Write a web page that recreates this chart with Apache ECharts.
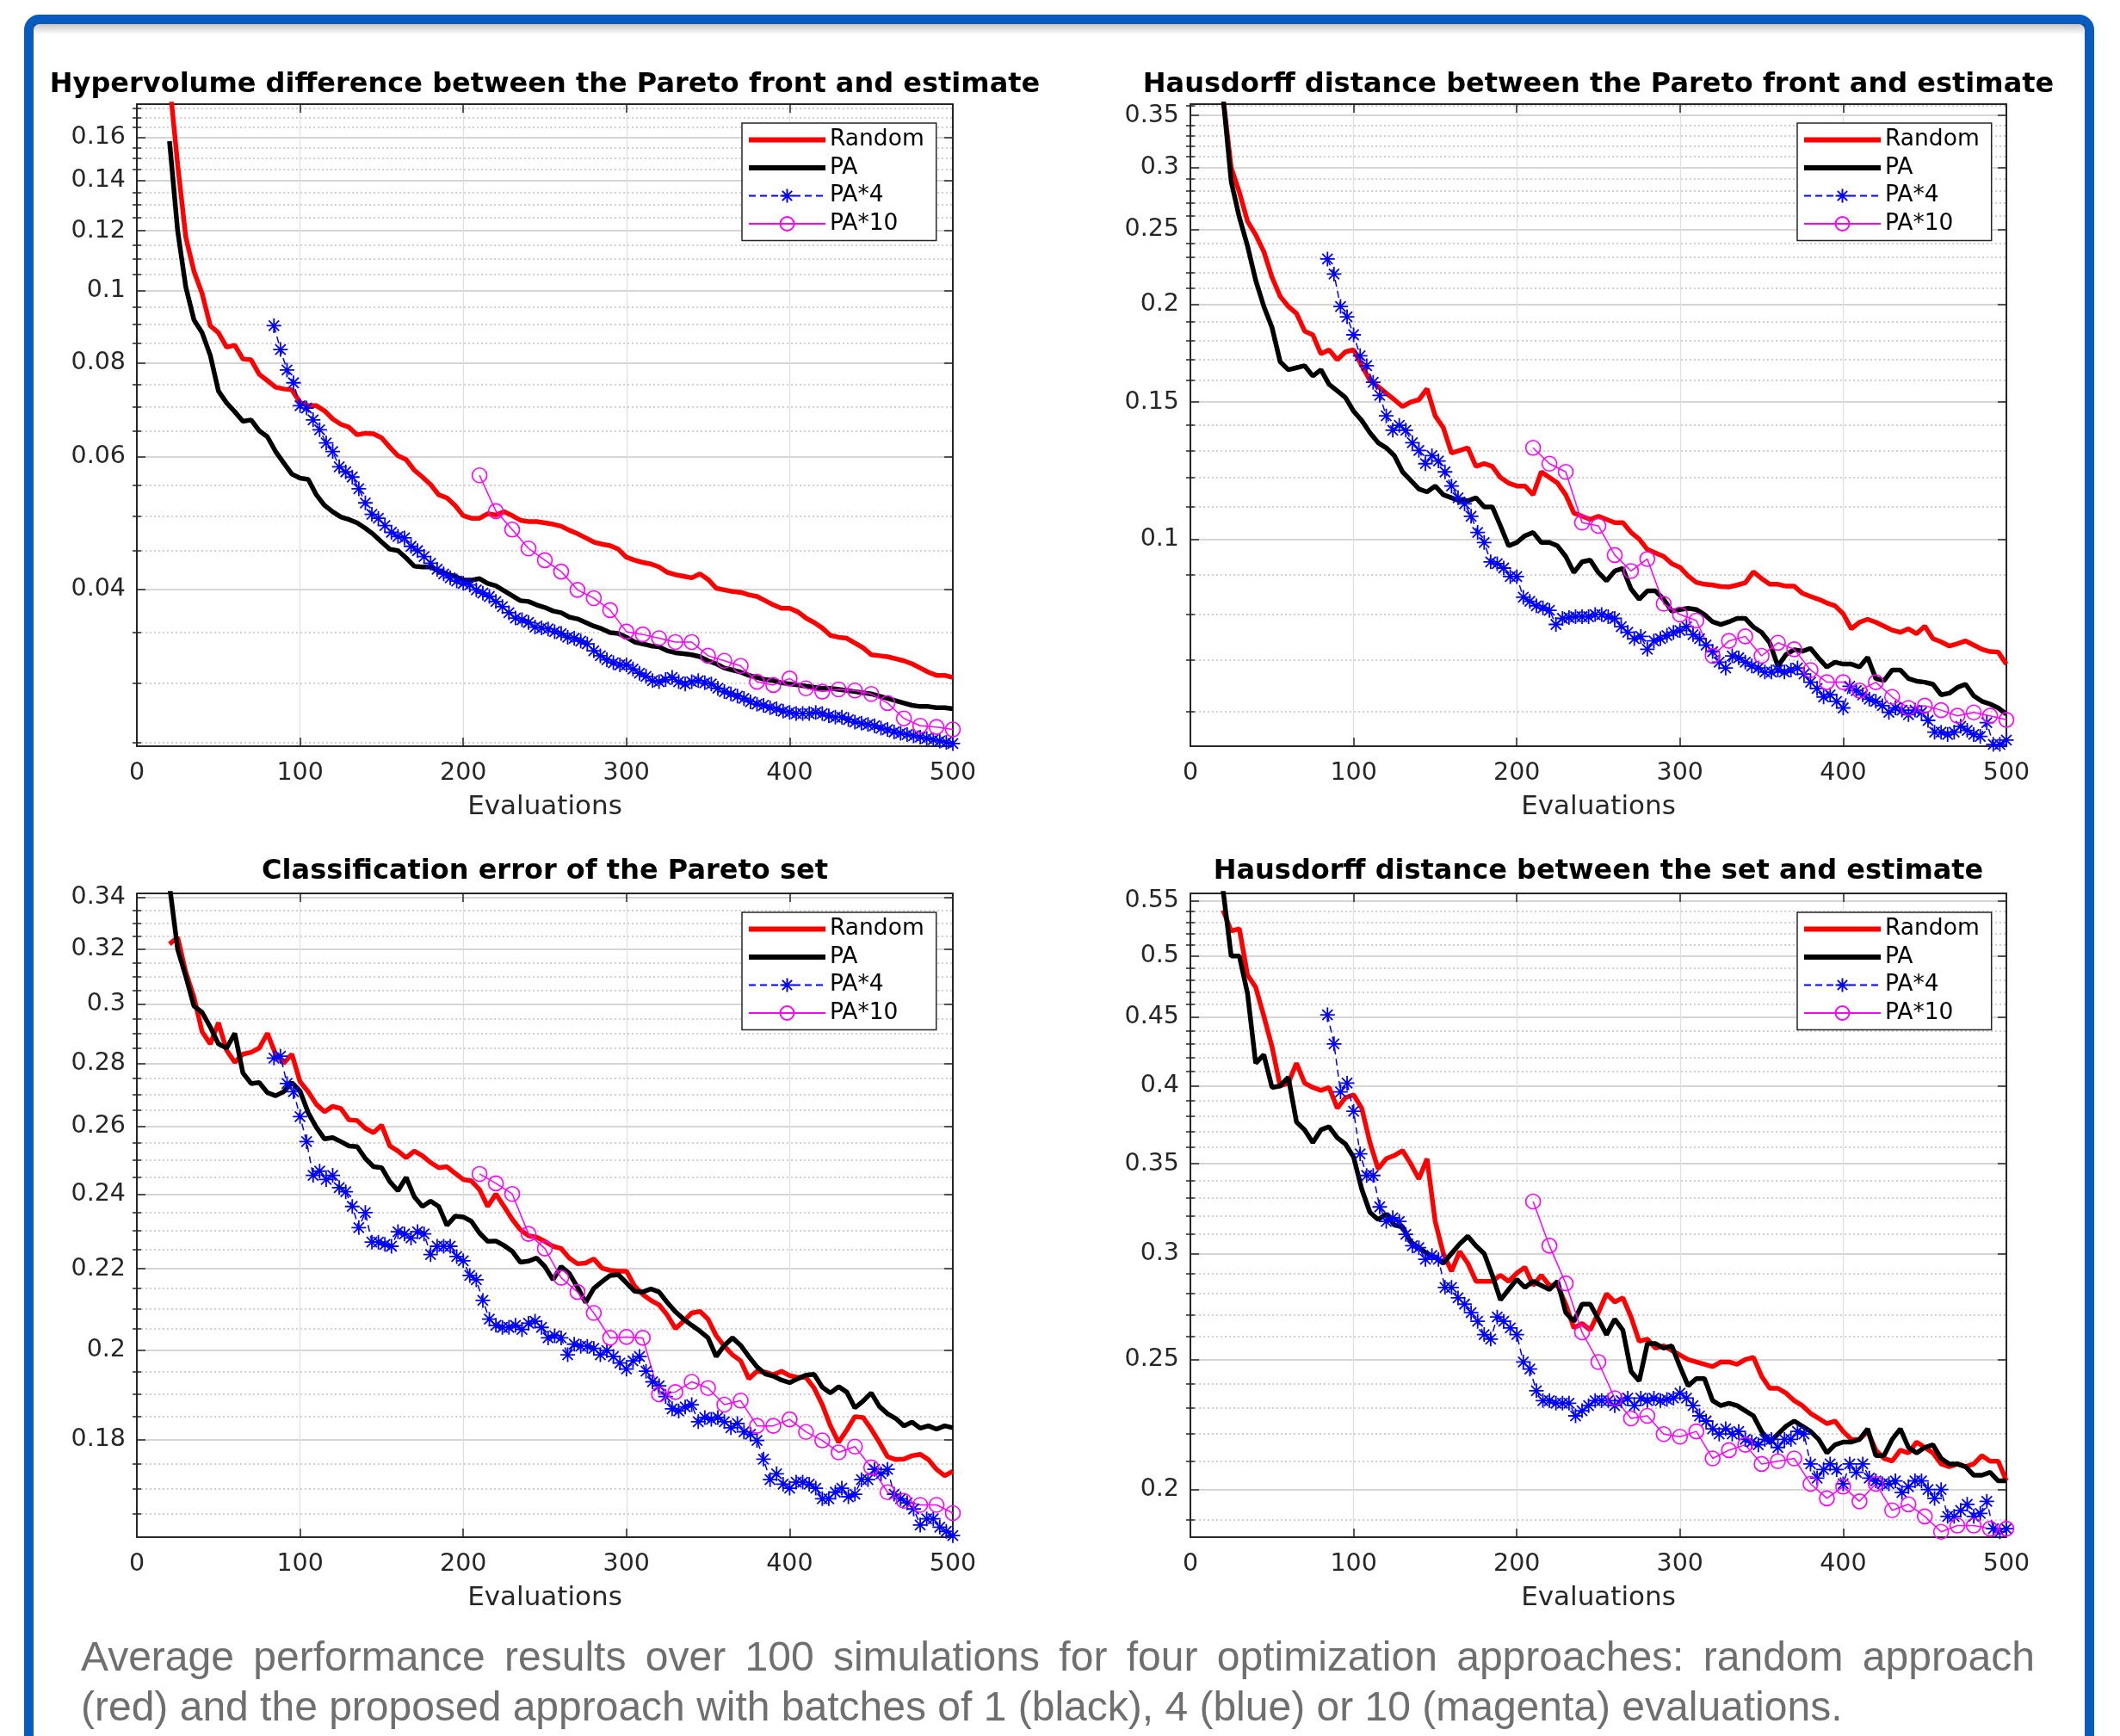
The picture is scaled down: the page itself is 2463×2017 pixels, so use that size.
<!DOCTYPE html>
<html><head><meta charset="utf-8">
<script src="https://cdn.jsdelivr.net/npm/echarts@6/dist/echarts.min.js"></script>
<style>html,body{margin:0;padding:0;background:#fff;}#c{width:2463px;height:2017px;}</style>
</head><body><div id="c"></div><script>
// ---------- x values (evaluations) ----------
const evalsA = [20,25,30,35,40,45,50,55,60,65,70,75,80,85,90,95,100,105,110,115,120,125,130,135,140,145,150,155,160,165,170,175,180,185,190,195,200,205,210,215,220,225,230,235,240,245,250,255,260,265,270,275,280,285,290,295,300,305,310,315,320,325,330,335,340,345,350,355,360,365,370,375,380,385,390,395,400,405,410,415,420,425,430,435,440,445,450,455,460,465,470,475,480,485,490,495,500];
const evals4 = [84,88,92,96,100,104,108,112,116,120,124,128,132,136,140,144,148,152,156,160,164,168,172,176,180,184,188,192,196,200,204,208,212,216,220,224,228,232,236,240,244,248,252,256,260,264,268,272,276,280,284,288,292,296,300,304,308,312,316,320,324,328,332,336,340,344,348,352,356,360,364,368,372,376,380,384,388,392,396,400,404,408,412,416,420,424,428,432,436,440,444,448,452,456,460,464,468,472,476,480,484,488,492,496,500];
const evals10 = [210,220,230,240,250,260,270,280,290,300,310,320,330,340,350,360,370,380,390,400,410,420,430,440,450,460,470,480,490,500];

// ---------- Panel 1: Hypervolume difference ----------
const hvRandom = [0.19,0.147,0.1177,0.106,0.099,0.0897,0.0878,0.084,0.0845,0.081,
0.0808,0.0773,0.0758,0.0743,0.0739,0.0737,0.0709,0.0702,0.0702,0.0691,
0.0674,0.0663,0.0657,0.0642,0.0645,0.0644,0.0636,0.0618,0.0602,0.0595,
0.0576,0.0564,0.0551,0.0534,0.0529,0.0517,0.0501,0.0497,0.0497,0.0504,
0.0502,0.0507,0.0501,0.0494,0.0492,0.0492,0.049,0.0488,0.0485,0.0479,
0.0474,0.0468,0.0462,0.0459,0.0457,0.0452,0.0441,0.0437,0.0434,0.0432,
0.0428,0.0421,0.0418,0.0416,0.0414,0.0419,0.0412,0.0401,0.0399,0.0397,
0.0396,0.0393,0.0391,0.0386,0.0381,0.0377,0.0377,0.0373,0.0366,0.0361,
0.0355,0.0347,0.0345,0.0344,0.0339,0.0334,0.0327,0.0326,0.0325,0.0323,
0.0321,0.0318,0.0314,0.031,0.0307,0.0307,0.0305];
const hvPA = [0.158,0.12,0.101,0.0913,0.0878,0.0819,0.0734,0.0708,0.0689,0.0669,
0.0672,0.065,0.0638,0.061,0.0589,0.0569,0.0562,0.056,0.0534,0.0517,
0.0507,0.0499,0.0495,0.049,0.0482,0.0473,0.0462,0.0452,0.045,0.044,
0.0429,0.0428,0.0428,0.0423,0.0419,0.0416,0.0411,0.0411,0.0413,0.0407,
0.0404,0.0398,0.0392,0.0386,0.0385,0.0381,0.0378,0.0374,0.0372,0.0367,
0.0365,0.0361,0.0357,0.0354,0.035,0.0349,0.0345,0.034,0.0338,0.0336,
0.0335,0.0331,0.0329,0.0328,0.0327,0.0325,0.0321,0.0318,0.0314,0.0312,
0.031,0.0307,0.0305,0.0303,0.0302,0.03,0.0299,0.0298,0.0297,0.0296,
0.0295,0.0295,0.0294,0.0293,0.0292,0.0291,0.029,0.0288,0.0286,0.0284,
0.0282,0.028,0.0279,0.0279,0.0278,0.0278,0.0277];
const hvPA4 = [0.0897,0.0834,0.0783,0.0753,0.0702,0.0697,0.0672,0.0652,0.0626,0.061,
0.0582,0.0573,0.0564,0.0544,0.0521,0.0503,0.0497,0.0486,0.0476,0.047,
0.0468,0.0456,0.045,0.0442,0.0433,0.0425,0.0419,0.0414,0.041,0.0407,
0.0405,0.0399,0.0395,0.0391,0.0385,0.0379,0.0372,0.0366,0.0364,0.0361,
0.0356,0.0355,0.0354,0.0351,0.0349,0.0345,0.0344,0.0341,0.0338,0.0331,
0.0326,0.0322,0.0319,0.0317,0.0317,0.0313,0.0309,0.0306,0.0302,0.0301,
0.0303,0.0305,0.0301,0.0299,0.0301,0.0302,0.03,0.0299,0.0295,0.0292,
0.029,0.0288,0.0286,0.0283,0.0281,0.028,0.0278,0.0277,0.0275,0.0274,
0.0273,0.0273,0.0273,0.0274,0.0273,0.0271,0.027,0.027,0.0268,0.0266,
0.0265,0.0264,0.0263,0.0261,0.026,0.0258,0.0257,0.0256,0.0255,0.0254,
0.0253,0.0252,0.0251,0.025,0.0249];
const hvPA10 = [0.0567,0.0508,0.048,0.0453,0.0437,0.0422,0.0399,0.0389,0.0375,0.0351,
0.0348,0.0344,0.034,0.034,0.0326,0.0321,0.0316,0.0301,0.0298,0.0304,
0.0295,0.0292,0.0294,0.0293,0.029,0.0282,0.0269,0.0263,0.0262,0.026];
const hvTicks = [0.04,0.06,0.08,0.1,0.12,0.14,0.16];
const hvMinor = [0.025,0.03,0.035,0.045,0.05,0.055,0.065,0.07,0.075,0.085,0.09,0.095,0.105,0.11,0.115,0.125,0.13,0.135,0.145,0.15,0.155,0.165,0.17,0.175];

// ---------- Panel 2: Hausdorff distance, Pareto front ----------
const hdfRandom = [0.37,0.30,0.279,0.256,0.246,0.234,0.217,0.205,0.199,0.195,
0.185,0.183,0.173,0.175,0.17,0.174,0.175,0.167,0.16,0.157,
0.154,0.151,0.148,0.15,0.151,0.156,0.144,0.139,0.129,0.13,
0.131,0.124,0.125,0.124,0.12,0.118,0.117,0.117,0.114,0.122,
0.12,0.118,0.114,0.108,0.107,0.106,0.107,0.106,0.105,0.105,
0.102,0.1,0.097,0.096,0.095,0.093,0.092,0.0897,0.088,0.0875,
0.0873,0.0869,0.0868,0.0873,0.0879,0.0908,0.089,0.0875,0.0875,0.087,
0.087,0.0852,0.0844,0.0837,0.0828,0.0821,0.0802,0.0767,0.0782,0.0789,
0.0782,0.0773,0.0764,0.0759,0.0767,0.0756,0.0773,0.0745,0.0738,0.0729,
0.0734,0.074,0.0731,0.0722,0.0717,0.0716,0.0691];
const hdfPA = [0.37,0.288,0.259,0.238,0.215,0.199,0.187,0.169,0.165,0.166,
0.167,0.162,0.165,0.158,0.155,0.152,0.146,0.142,0.137,0.133,
0.131,0.128,0.122,0.119,0.116,0.115,0.117,0.114,0.113,0.112,
0.112,0.113,0.11,0.11,0.104,0.098,0.099,0.101,0.102,0.099,
0.099,0.098,0.095,0.0906,0.0935,0.094,0.0906,0.0884,0.091,0.0917,
0.0863,0.0837,0.0858,0.0858,0.0837,0.0808,0.0812,0.0815,0.0812,0.08,
0.0783,0.0777,0.0783,0.0791,0.0791,0.0771,0.0759,0.0736,0.0687,0.0711,
0.0721,0.0718,0.0724,0.0703,0.0685,0.0695,0.0691,0.0691,0.0685,0.0705,
0.0662,0.0658,0.0679,0.0679,0.0662,0.0657,0.0655,0.0651,0.0631,0.0634,
0.0645,0.0651,0.0629,0.0619,0.0614,0.0607,0.0596];
const hdfPA4 = [0.229,0.219,0.199,0.193,0.183,0.172,0.167,0.159,0.153,0.144,
0.138,0.14,0.138,0.133,0.13,0.125,0.128,0.126,0.122,0.117,
0.113,0.111,0.107,0.102,0.099,0.0935,0.093,0.0918,0.0895,0.0895,
0.0842,0.0832,0.0821,0.0816,0.081,0.0777,0.0791,0.0793,0.0795,0.0795,
0.0795,0.08,0.08,0.0795,0.0791,0.0772,0.0759,0.0745,0.075,0.0722,
0.074,0.0745,0.0752,0.0759,0.0763,0.0772,0.0754,0.0745,0.0731,0.0717,
0.0695,0.0683,0.0708,0.0704,0.0695,0.0687,0.0683,0.0675,0.0675,0.0679,
0.0675,0.0679,0.0683,0.0671,0.0655,0.0643,0.0627,0.0631,0.0619,0.0607,
0.0647,0.0639,0.0631,0.0623,0.0619,0.0611,0.0599,0.0607,0.0603,0.0595,
0.0603,0.0599,0.0585,0.0565,0.0565,0.0561,0.0565,0.0575,0.0568,0.0561,
0.0558,0.0581,0.0545,0.0545,0.0552];
const hdfPA10 = [0.131,0.125,0.122,0.105,0.104,0.0954,0.091,0.0943,0.0826,0.08,
0.0786,0.0708,0.074,0.075,0.0708,0.0736,0.0722,0.0679,0.0655,0.0655,
0.0639,0.0655,0.0627,0.0607,0.0611,0.0603,0.0593,0.0599,0.0593,0.0586];
const hdfTicks = [0.1,0.15,0.2,0.25,0.3,0.35];
const hdfMinor = [0.06,0.07,0.08,0.09,0.11,0.12,0.13,0.14,0.16,0.17,0.18,0.19,0.21,0.22,0.23,0.24,0.26,0.27,0.28,0.29,0.31,0.32,0.33,0.34,0.36];

// ---------- Panel 3: Classification error ----------
const ceRandom = [0.322,0.3245,0.3115,0.3025,0.2905,0.2864,0.2936,0.2843,0.2803,0.283,
0.2836,0.285,0.29,0.283,0.28,0.283,0.274,0.2708,0.2668,0.2645,
0.2662,0.2655,0.262,0.2618,0.2594,0.2581,0.2604,0.2541,0.2526,0.2506,
0.2526,0.2512,0.2492,0.2477,0.248,0.2461,0.2443,0.2439,0.2414,0.2367,
0.2402,0.2367,0.2332,0.2303,0.2287,0.2283,0.2272,0.2259,0.2253,0.2228,
0.2213,0.2215,0.2226,0.2202,0.2196,0.2194,0.2194,0.2156,0.2135,0.212,
0.2109,0.2084,0.2051,0.2069,0.2089,0.2093,0.2074,0.2034,0.2009,0.1989,
0.1975,0.1934,0.1951,0.1949,0.1943,0.1951,0.1941,0.1937,0.1937,0.1913,
0.1876,0.183,0.1795,0.1821,0.185,0.1848,0.1823,0.1795,0.1765,0.1759,
0.176,0.1767,0.177,0.1759,0.1739,0.1726,0.1735];
const cePA = [0.345,0.32,0.31,0.2994,0.2972,0.2921,0.2864,0.285,0.29,0.2768,
0.2734,0.2737,0.2705,0.2695,0.2708,0.2737,0.271,0.2642,0.2597,0.2562,
0.2566,0.2554,0.2541,0.2539,0.2504,0.248,0.2477,0.2437,0.2411,0.2449,
0.2394,0.2367,0.2382,0.2367,0.2315,0.234,0.2338,0.2326,0.2294,0.2272,
0.2273,0.2261,0.2246,0.2217,0.222,0.2228,0.2206,0.2172,0.2206,0.2188,
0.2153,0.2115,0.215,0.2167,0.2183,0.2185,0.2164,0.2143,0.2141,0.2149,
0.2141,0.2115,0.2092,0.2074,0.2059,0.2045,0.2029,0.1985,0.2011,0.2029,
0.2011,0.1985,0.1961,0.1945,0.194,0.1931,0.1925,0.1934,0.1942,0.1944,
0.1915,0.1902,0.1916,0.1904,0.1869,0.1884,0.1902,0.1872,0.1856,0.1846,
0.183,0.1838,0.1825,0.183,0.1823,0.183,0.1826];
const cePA4 = [0.2817,0.2823,0.2734,0.2708,0.263,0.2554,0.2455,0.2467,0.2443,0.2455,
0.242,0.2408,0.2367,0.2309,0.235,0.227,0.227,0.2264,0.2259,0.2298,
0.2292,0.2281,0.2298,0.2292,0.2237,0.2259,0.2259,0.2259,0.2232,0.2221,
0.2183,0.2172,0.212,0.2074,0.2059,0.2054,0.2054,0.2059,0.2049,0.2064,
0.2069,0.2054,0.2029,0.2034,0.2029,0.1989,0.2014,0.2009,0.2009,0.2004,
0.1989,0.1999,0.1985,0.197,0.1956,0.1975,0.1985,0.1951,0.1927,0.1918,
0.1894,0.1867,0.1862,0.1871,0.1876,0.1839,0.1848,0.1844,0.1848,0.1839,
0.1826,0.1835,0.1817,0.1812,0.1799,0.176,0.1718,0.173,0.1709,0.1701,
0.1713,0.1713,0.1709,0.1701,0.168,0.168,0.1693,0.1701,0.1684,0.1689,
0.1718,0.1718,0.1739,0.173,0.1739,0.1689,0.168,0.1672,0.166,0.1629,
0.1641,0.1641,0.1625,0.1617,0.1609];
const cePA10 = [0.2459,0.2432,0.2402,0.2292,0.2253,0.2177,0.2141,0.2089,0.2029,0.2031,
0.2029,0.1899,0.1904,0.1927,0.1913,0.1876,0.1885,0.183,0.183,0.1844,
0.1817,0.1799,0.1774,0.1786,0.1743,0.1693,0.1676,0.1668,0.1668,0.1652];
const ceTicks = [0.18,0.2,0.22,0.24,0.26,0.28,0.3,0.32,0.34];
const ceMinor = [0.165,0.17,0.175,0.185,0.19,0.195,0.205,0.21,0.215,0.225,0.23,0.235,0.245,0.25,0.255,0.265,0.27,0.275,0.285,0.29,0.295,0.305,0.31,0.315,0.325,0.33,0.335];

// ---------- Panel 4: Hausdorff distance, set ----------
const hdsRandom = [0.541,0.522,0.524,0.484,0.474,0.451,0.428,0.40,0.402,0.416,
0.402,0.399,0.397,0.399,0.385,0.392,0.394,0.385,0.363,0.347,
0.353,0.355,0.358,0.35,0.341,0.353,0.317,0.30,0.291,0.301,
0.295,0.286,0.286,0.286,0.289,0.286,0.29,0.293,0.284,0.289,
0.284,0.284,0.275,0.264,0.266,0.263,0.271,0.28,0.276,0.278,
0.269,0.258,0.259,0.255,0.256,0.254,0.252,0.25,0.249,0.248,
0.247,0.249,0.249,0.248,0.25,0.251,0.243,0.238,0.238,0.236,
0.233,0.231,0.228,0.226,0.224,0.225,0.221,0.218,0.218,0.221,
0.214,0.211,0.21,0.214,0.213,0.217,0.215,0.213,0.209,0.208,
0.209,0.208,0.209,0.212,0.21,0.21,0.203];
const hdsPA = [0.56,0.50,0.50,0.469,0.416,0.422,0.399,0.40,0.406,0.376,
0.371,0.363,0.371,0.373,0.366,0.362,0.354,0.335,0.322,0.318,
0.321,0.315,0.314,0.306,0.303,0.30,0.298,0.295,0.30,0.305,
0.309,0.304,0.30,0.289,0.277,0.282,0.287,0.283,0.286,0.284,
0.282,0.286,0.271,0.267,0.275,0.275,0.268,0.261,0.268,0.263,
0.245,0.241,0.257,0.257,0.255,0.256,0.247,0.239,0.242,0.242,
0.233,0.231,0.232,0.231,0.229,0.227,0.221,0.217,0.22,0.223,
0.225,0.223,0.221,0.218,0.213,0.216,0.217,0.217,0.218,0.222,
0.212,0.212,0.218,0.222,0.215,0.213,0.215,0.216,0.211,0.209,
0.209,0.208,0.205,0.205,0.206,0.203,0.203];
const hdsPA4 = [0.452,0.43,0.396,0.402,0.383,0.356,0.343,0.343,0.325,0.317,
0.319,0.317,0.31,0.304,0.303,0.297,0.299,0.297,0.283,0.283,
0.278,0.275,0.271,0.267,0.261,0.259,0.269,0.267,0.264,0.261,
0.249,0.246,0.237,0.233,0.233,0.232,0.232,0.232,0.227,0.229,
0.231,0.233,0.233,0.233,0.231,0.233,0.234,0.231,0.234,0.233,
0.234,0.233,0.2335,0.234,0.236,0.234,0.231,0.227,0.225,0.222,
0.22,0.222,0.22,0.221,0.218,0.217,0.216,0.218,0.218,0.215,
0.218,0.218,0.221,0.22,0.209,0.204,0.207,0.209,0.207,0.202,
0.209,0.206,0.209,0.204,0.203,0.202,0.202,0.203,0.199,0.201,
0.203,0.203,0.20,0.197,0.20,0.191,0.191,0.193,0.195,0.191,
0.192,0.196,0.187,0.186,0.187];
const hdsPA10 = [0.328,0.304,0.285,0.262,0.249,0.234,0.226,0.227,0.22,0.219,
0.221,0.211,0.214,0.216,0.209,0.21,0.211,0.202,0.197,0.201,
0.196,0.202,0.193,0.195,0.191,0.186,0.188,0.188,0.187,0.187];
const hdsTicks = [0.2,0.25,0.3,0.35,0.4,0.45,0.5,0.55];
const hdsMinor = [0.19,0.21,0.22,0.23,0.24,0.26,0.27,0.28,0.29,0.31,0.32,0.33,0.34,0.36,0.37,0.38,0.39,0.41,0.42,0.43,0.44,0.46,0.47,0.48,0.49,0.51,0.52,0.53,0.54];

const titles = ['Hypervolume difference between the Pareto front and estimate',
  'Hausdorff distance between the Pareto front and estimate',
  'Classification error of the Pareto set',
  'Hausdorff distance between the set and estimate'];
const seriesNames = ['Random','PA','PA*4','PA*10'];
const xLabel = 'Evaluations';
const captionLine1 = 'Average performance results over 100 simulations for four optimization approaches: random approach';
const captionLine2 = '(red) and the proposed approach with batches of 1 (black), 4 (blue) or 10 (magenta) evaluations.';

// ---------- layout / style ----------
const panels = [
  {data:[hvRandom,hvPA,hvPA4,hvPA10], ticks:hvTicks, minor:hvMinor, min:0.0247, max:0.177},
  {data:[hdfRandom,hdfPA,hdfPA4,hdfPA10], ticks:hdfTicks, minor:hdfMinor, min:0.0542, max:0.362},
  {data:[ceRandom,cePA,cePA4,cePA10], ticks:ceTicks, minor:ceMinor, min:0.1606, max:0.3417},
  {data:[hdsRandom,hdsPA,hdsPA4,hdsPA10], ticks:hdsTicks, minor:hdsMinor, min:0.1843, max:0.5568}
];
const boxes = [
  {left:159, top:121, h:746, tx:633, ty:99, lx:862, ly:143},
  {left:1383, top:121, h:746, tx:1857, ty:99, lx:2088, ly:143},
  {left:159, top:1038, h:748, tx:633, ty:1013, lx:862, ly:1060},
  {left:1383, top:1038, h:748, tx:1857, ty:1013, lx:2088, ly:1060}
];
const FONT = 'DejaVu Sans';
const AX = '#262626';
const colors = ['#ff0000','#000000','#0000ff','#ff00ff'];
const asterisk = 'path://M10,0V20M0,10H20M2.93,2.93L17.07,17.07M17.07,2.93L2.93,17.07';
const thickIcon = 'path://M0,0H90V6H0Z';
const fmt = v => String(parseFloat(Number(v).toPrecision(4)));
const zip = (xs, ys) => xs.slice(0, ys.length).map((x, k) => [x, ys[k]]);

const grid = [], xAxis = [], yAxis = [], series = [], legend = [], title = [];
panels.forEach((p, i) => {
  const b = boxes[i];
  grid.push({left:b.left, top:b.top, width:948, height:b.h, containLabel:false, outerBoundsMode:'none'});
  title.push({text:titles[i], left:b.tx, top:b.ty, textAlign:'center', textVerticalAlign:'middle', padding:0,
    textStyle:{fontFamily:FONT, fontSize:32, fontWeight:'bold', color:'#000'}});
  const lineS = {color:AX, width:2};
  const tickS = {color:AX, width:1.5};
  xAxis.push({gridIndex:i, type:'value', position:'bottom', min:0, max:500, interval:100,
    axisLine:{show:true, onZero:false, lineStyle:lineS},
    axisTick:{show:true, inside:true, length:10, lineStyle:tickS},
    axisLabel:{show:true, margin:17, fontSize:28.5, color:AX, fontFamily:FONT},
    splitLine:{show:true, lineStyle:{color:'#e0e0e0', width:1.3}},
    name:xLabel, nameLocation:'middle', nameGap:55,
    nameTextStyle:{fontSize:31, color:AX, fontFamily:FONT}});
  xAxis.push({gridIndex:i, type:'value', position:'top', min:0, max:500, interval:100,
    axisLine:{show:true, onZero:false, lineStyle:lineS},
    axisTick:{show:true, inside:true, length:10, lineStyle:tickS},
    axisLabel:{show:false}, splitLine:{show:false}});
  const yBase = {gridIndex:i, type:'log', logBase:10, min:p.min, max:p.max};
  yAxis.push(Object.assign({}, yBase, {position:'left',
    axisLine:{show:true, onZero:false, lineStyle:lineS},
    axisTick:{show:true, inside:true, length:10, customValues:p.ticks, lineStyle:tickS},
    axisLabel:{show:true, customValues:p.ticks, formatter:fmt, margin:13, fontSize:28.5, color:AX, fontFamily:FONT},
    splitLine:{show:true, lineStyle:{color:'#d5d5d5', width:1.8}},
    minorTick:{show:false}, minorSplitLine:{show:false}}));
  yAxis.push(Object.assign({}, yBase, {position:'right',
    axisLine:{show:true, onZero:false, lineStyle:lineS},
    axisTick:{show:true, inside:true, length:10, customValues:p.ticks, lineStyle:tickS},
    axisLabel:{show:false}, splitLine:{show:false}}));
  yAxis.push(Object.assign({}, yBase, {position:'left',
    axisLine:{show:false},
    axisTick:{show:true, inside:true, length:5, customValues:p.minor, lineStyle:tickS},
    axisLabel:{show:false},
    splitLine:{show:true, lineStyle:{color:'#c2c2c2', width:1.5, type:[2,3]}}}));
  yAxis.push(Object.assign({}, yBase, {position:'right',
    axisLine:{show:false},
    axisTick:{show:true, inside:true, length:5, customValues:p.minor, lineStyle:tickS},
    axisLabel:{show:false}, splitLine:{show:false}}));
  const xi = 2*i, yi = 4*i;
  series.push({type:'line', name:seriesNames[0], xAxisIndex:xi, yAxisIndex:yi, data:zip(evalsA, p.data[0]),
    symbol:'none', showSymbol:false, lineStyle:{color:colors[0], width:5.5}, itemStyle:{color:colors[0]}, clip:true, silent:true});
  series.push({type:'line', name:seriesNames[1], xAxisIndex:xi, yAxisIndex:yi, data:zip(evalsA, p.data[1]),
    symbol:'none', showSymbol:false, lineStyle:{color:colors[1], width:5.5}, itemStyle:{color:colors[1]}, clip:true, silent:true});
  series.push({type:'line', name:seriesNames[2], xAxisIndex:xi, yAxisIndex:yi, data:zip(evals4, p.data[2]),
    symbol:asterisk, symbolSize:17, showSymbol:true, showAllSymbol:true,
    lineStyle:{color:colors[2], width:1.5, type:[8,5]},
    itemStyle:{color:colors[2], borderColor:colors[2], borderWidth:1.8}, clip:true, silent:true});
  series.push({type:'line', name:seriesNames[3], xAxisIndex:xi, yAxisIndex:yi, data:zip(evals10, p.data[3]),
    symbol:'circle', symbolSize:17, showSymbol:true, showAllSymbol:true,
    lineStyle:{color:colors[3], width:1.5},
    itemStyle:{color:'rgba(0,0,0,0)', borderColor:colors[3], borderWidth:1.6}, clip:true, silent:true});
  legend.push({show:true, orient:'vertical', left:b.lx, top:b.ly,
    data:[{name:seriesNames[0], icon:thickIcon},{name:seriesNames[1], icon:thickIcon}, seriesNames[2], seriesNames[3]],
    itemWidth:89, itemHeight:20, itemGap:5.5, padding:[6,14,6,7],
    backgroundColor:'#ffffff', borderColor:AX, borderWidth:1.5, borderRadius:0,
    selectedMode:false,
    textStyle:{fontSize:26.5, fontFamily:FONT, color:'#000', lineHeight:26}});
});

// caption (justified first line)
const capFont = '48px "Liberation Sans", Arial, sans-serif';
const capColor = '#6f6f6f';
const graphic = [];
graphic.push({type:'rect', shape:{x:33.5, y:22.5, width:2394, height:2200, r:12},
  style:{fill:'none', stroke:'#085cc0', lineWidth:11}, silent:true});
graphic.push({type:'rect', shape:{x:39, y:28, width:2383, height:12},
  style:{fill:new echarts.graphic.LinearGradient(0,0,0,1,[{offset:0,color:'rgba(0,0,0,0.22)'},{offset:1,color:'rgba(0,0,0,0)'}])}, silent:true});
(function(){
  const ctx = document.createElement('canvas').getContext('2d');
  ctx.font = capFont;
  const words = captionLine1.split(' ');
  const w = words.map(s => ctx.measureText(s).width);
  const total = w.reduce((a,c)=>a+c,0);
  const gap = (2270 - total) / (words.length - 1);
  let x = 94;
  words.forEach((s,k) => {
    graphic.push({type:'text', x:x, y:1928, silent:true,
      style:{text:s, font:capFont, fill:capColor, align:'left', verticalAlign:'middle'}});
    x += w[k] + gap;
  });
  graphic.push({type:'text', x:94, y:1986, silent:true,
    style:{text:captionLine2, font:capFont, fill:capColor, align:'left', verticalAlign:'middle'}});
})();

const chart = echarts.init(document.getElementById('c'), null, {renderer:'canvas', width:2463, height:2017});
chart.setOption({
  backgroundColor:'#ffffff', animation:false,
  textStyle:{fontFamily:FONT},
  title, grid, xAxis, yAxis, series, legend, graphic,
  tooltip:{show:false}
});
</script></body></html>
